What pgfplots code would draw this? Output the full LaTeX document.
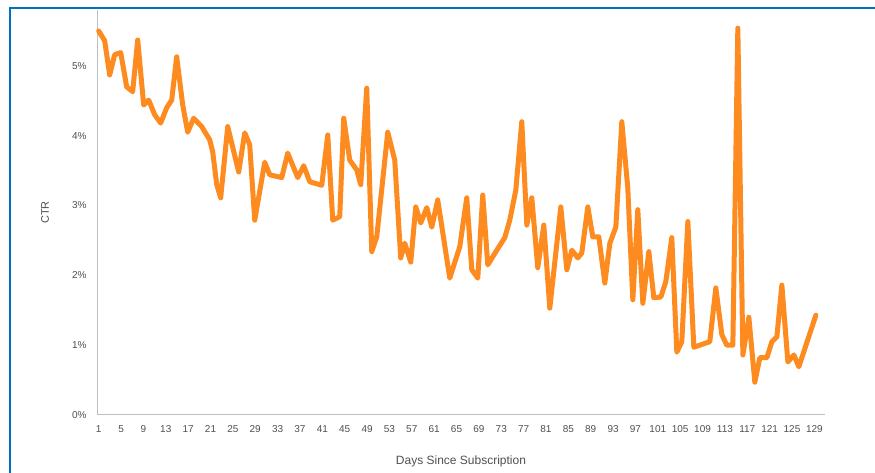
\documentclass[border=0pt]{standalone}
\usepackage{fontspec}
\setmainfont{Liberation Sans}
\usepackage{pgfplots}
\usepackage{pgfplotstable}
\pgfplotsset{compat=1.18}

\definecolor{ctrorange}{RGB}{253,139,31}
\definecolor{frameblue}{RGB}{0,112,192}
\definecolor{axisgray}{RGB}{191,191,191}
\definecolor{labelgray}{RGB}{80,80,80}

% CTR by day since subscription
\pgfplotstableread{
day ctr
1.0 5.50
2.07 5.36
2.97 4.87
3.86 5.16
4.94 5.19
6.01 4.70
7.08 4.63
7.98 5.37
9.05 4.44
9.94 4.51
11.02 4.30
12.09 4.18
13.16 4.40
14.06 4.51
14.95 5.13
16.03 4.44
16.92 4.05
17.99 4.25
19.42 4.13
20.86 3.94
21.39 3.77
22.11 3.30
22.82 3.11
24.08 4.13
26.04 3.48
27.12 4.04
28.01 3.87
28.91 2.79
30.70 3.62
31.59 3.44
33.74 3.40
34.81 3.75
36.60 3.40
37.67 3.57
38.75 3.34
40.89 3.29
41.97 4.01
42.86 2.79
44.11 2.84
44.83 4.25
45.90 3.65
47.15 3.51
47.87 3.30
48.94 4.68
49.84 2.34
50.73 2.55
52.70 4.05
53.95 3.65
55.02 2.25
55.74 2.46
56.81 2.19
57.71 2.98
58.60 2.75
59.68 2.97
60.57 2.69
61.64 3.08
63.79 1.96
65.58 2.41
66.83 3.11
67.73 2.08
68.80 1.96
69.69 3.15
70.59 2.15
72.20 2.36
73.63 2.54
74.52 2.79
75.60 3.22
76.67 4.20
77.57 2.72
78.46 3.11
79.53 2.11
80.61 2.72
81.68 1.53
83.65 2.98
84.72 2.08
85.62 2.36
86.69 2.25
87.40 2.32
88.48 2.98
89.37 2.55
90.45 2.55
91.52 1.89
92.42 2.46
93.49 2.69
94.56 4.20
95.63 3.25
96.53 1.65
97.42 2.94
98.32 1.60
99.39 2.34
100.28 1.68
101.54 1.69
102.43 1.91
103.50 2.54
104.40 0.90
105.29 1.05
106.37 2.77
107.44 0.97
108.51 1.00
110.30 1.05
111.37 1.82
112.45 1.15
113.34 1.00
114.42 1.00
115.31 5.54
116.21 0.86
117.28 1.40
118.35 0.47
119.25 0.82
120.50 0.82
121.40 1.05
122.29 1.12
123.18 1.86
124.26 0.76
125.33 0.86
126.22 0.69
129.27 1.43
}\ctrdata

\begin{document}
\begin{tikzpicture}[x=1pt,y=1pt]
\useasboundingbox (0,0) rectangle (875,473);
\fill[white] (0,0) rectangle (875,473);
\draw[frameblue, line width=2.5pt] (10,0) -- (10,465) -- (875,465);
\begin{axis}[
    at={(97pt,58pt)}, anchor=south west,
    width=728pt, height=405pt, scale only axis,
    xmin=0.7, xmax=130.9,
    ymin=0, ymax=5.8,
    axis lines=left,
    axis line style={-, axisgray, line width=1pt},
    major tick length=0pt,
    xtick={1,5,...,129},
    ytick={0,1,2,3,4,5},
    yticklabels={0\%,1\%,2\%,3\%,4\%,5\%},
    /pgf/number format/assume math mode=true,
    tick label style={font=\fontsize{10}{11}\selectfont, text=labelgray},
    xticklabel style={yshift=-7pt},
    yticklabel style={xshift=-7pt},
    xlabel={Days Since Subscription},
    ylabel={CTR},
    xlabel style={font=\fontsize{12}{14}\selectfont, text=labelgray,
        at={(axis description cs:0.5,-0.1136)}, anchor=center},
    ylabel style={font=\fontsize{11}{13}\selectfont, text=labelgray,
        at={(axis description cs:-0.0714,0.5)}, anchor=center},
    clip=false,
]
\addplot[ctrorange, line width=5pt, line join=round, line cap=round] table[x=day, y=ctr] {\ctrdata};
\end{axis}
\end{tikzpicture}
\end{document}
